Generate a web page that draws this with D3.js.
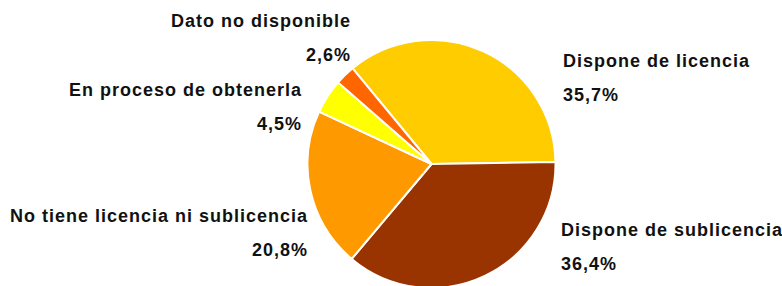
<!DOCTYPE html>
<html>
<head>
<meta charset="utf-8">
<script src="https://cdn.jsdelivr.net/npm/d3@7"></script>
<style>
	html, body { margin: 0; padding: 0; background: #fff; }
	svg { display: block; }
	.lbl { font-family: "Liberation Sans", Arial, sans-serif; font-weight: bold; font-size: 18px; letter-spacing: 1px; fill: #111; }
</style>
</head>
<body>
<div id="chart"></div>
<script>

var categories = ["Dispone de licencia", "Dispone de sublicencia", "No tiene licencia ni sublicencia", "En proceso de obtenerla", "Dato no disponible"];
var values = [35.7, 36.4, 20.8, 4.5, 2.6];
var valueLabels = ["35,7%", "36,4%", "20,8%", "4,5%", "2,6%"];
var colors = ["#FFCC00", "#993300", "#FF9900", "#FFFF00", "#FF6600"];

// label placement: [x, baseline of name, anchor]
var labelLayout = [
	[563, 67, "start"],
	[561, 236, "start"],
	[308, 222, "end"],
	[302, 96, "end"],
	[351, 27, "end"]
];

var width = 782, height = 286;
var cx = 431.5, cy = 164, radius = 124;
var start = -39.5 * Math.PI / 180;

var svg = d3.select("#chart").append("svg")
	.attr("width", width)
	.attr("height", height);

var pie = d3.pie()
	.sort(null)
	.value(function(d) { return d; })
	.startAngle(start)
	.endAngle(start + 2 * Math.PI);

var arc = d3.arc()
	.innerRadius(0)
	.outerRadius(radius);

var g = svg.append("g")
	.attr("transform", "translate(" + cx + "," + cy + ")");

g.selectAll("path")
	.data(pie(values))
	.enter().append("path")
	.attr("d", arc)
	.attr("fill", function(d, i) { return colors[i]; })
	.attr("stroke", "#fff")
	.attr("stroke-width", 2)
	.attr("stroke-linejoin", "round");

var labels = svg.append("g");

categories.forEach(function(name, i)
{
	var p = labelLayout[i];

	labels.append("text")
	.attr("class", "lbl")
	.attr("x", p[0])
	.attr("y", p[1])
	.attr("text-anchor", p[2])
	.text(name);

	labels.append("text")
	.attr("class", "lbl")
	.attr("x", p[0])
	.attr("y", p[1] + 34)
	.attr("text-anchor", p[2])
	.text(valueLabels[i]);
});

</script>
</body>
</html>
